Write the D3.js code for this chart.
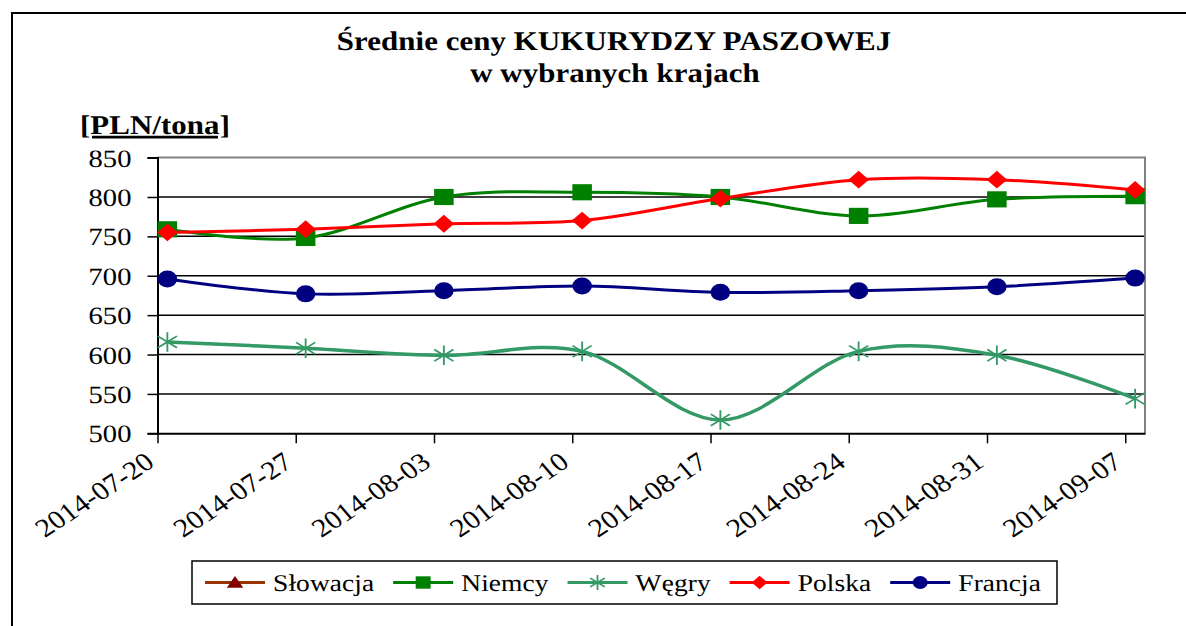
<!DOCTYPE html>
<html>
<head>
<meta charset="utf-8">
<script src="https://cdn.jsdelivr.net/npm/d3@7"></script>
<style>
  body { margin: 0; background: #fff; }
</style>
</head>
<body>
<script>
// weekly prices, PLN/tona
var dates   = ["2014-07-20", "2014-07-27", "2014-08-03", "2014-08-10", "2014-08-17", "2014-08-24", "2014-08-31", "2014-09-07"];
var slowacja = [];
var niemcy  = [759, 748, 800, 806, 800, 776, 797, 801];
var wegry   = [616, 608, 599, 604, 517, 604, 599, 544];
var polska  = [755, 759, 766, 770, 798, 822, 822, 809];
var francja = [696, 677, 681, 687, 679, 681, 686, 697];
var yTicks  = [500, 550, 600, 650, 700, 750, 800, 850];

var seriesNames = ["Słowacja", "Niemcy", "Węgry", "Polska", "Francja"];
var seriesValues = [slowacja, niemcy, wegry, polska, francja];

var FONT = "'Liberation Serif', 'Times New Roman', serif";
var SX = 1.15; // the original picture is a bit wider than tall
// upright text lost its serif face here, so draw it at double size,
// shrink it back and give it a barely visible skew
var UP = 2;
var UPRIGHT = " scale(" + (SX / UP) + "," + (1 / UP) + ") skewX(0.5)";

var W = 1186, H = 626;
var svg = d3.select("body").append("svg")
    .attr("width", W)
    .attr("height", H);

var plot = {left: 157.5, right: 1145, top: 157.6, bottom: 433.3};

var parse = d3.timeParse("%Y-%m-%d");
var x = d3.scaleTime()
    .domain([parse("2014-07-20"), parse("2014-09-08")])
    .range([plot.left, plot.right]);
var y = d3.scaleLinear()
    .domain([500, 850])
    .range([plot.bottom, plot.top]);

// observations were taken around mid-day
var pointDates = dates.map(function(d) { return d3.timeHour.offset(parse(d), 12); });

function txt(parent, px, py, size, str) {
    return parent.append("text")
        .attr("transform", "translate(" + px + "," + py + ")" + UPRIGHT)
        .style("font-family", FONT)
        .style("font-size", (size * UP) + "px")
        .text(str);
}

// outer frame
svg.append("rect")
    .attr("x", 12).attr("y", 13)
    .attr("width", W).attr("height", H)
    .attr("fill", "none").attr("stroke", "#000").attr("stroke-width", 2);

// title
txt(svg, 614, 50, 27, "Średnie ceny KUKURYDZY PASZOWEJ").attr("text-anchor", "middle").style("font-weight", "bold");
txt(svg, 615, 82, 27, "w wybranych krajach").attr("text-anchor", "middle").style("font-weight", "bold");
txt(svg, 80, 134, 27, "[PLN/tona]").style("font-weight", "bold").style("text-decoration", "underline");

// gridlines
svg.append("g").selectAll("line")
    .data(yTicks.slice(1, -1))
    .join("line")
    .attr("x1", plot.left).attr("x2", plot.right)
    .attr("y1", function(d) { return y(d); })
    .attr("y2", function(d) { return y(d); })
    .attr("stroke", "#000").attr("stroke-width", 1.5);

// plot frame (grey top/right)
svg.append("path")
    .attr("d", "M" + plot.left + "," + plot.top + "H" + plot.right + "V" + plot.bottom)
    .attr("fill", "none").attr("stroke", "#808080").attr("stroke-width", 2);

// y axis
var yAxis = svg.append("g")
    .attr("transform", "translate(" + plot.left + ",0)")
    .call(d3.axisLeft(y).tickValues(yTicks).tickSize(10).tickFormat(d3.format("d")));
yAxis.attr("font-family", null).attr("font-size", null);
yAxis.select(".domain").attr("stroke-width", 2);
yAxis.selectAll(".tick line").attr("stroke-width", 1.5);
yAxis.selectAll("text")
    .attr("x", 0).attr("dy", "0.34em")
    .attr("transform", "translate(-26,0)" + UPRIGHT)
    .style("font-family", FONT)
    .style("font-size", (25 * UP) + "px")
    .attr("fill", "#000");

// x axis
var xAxis = svg.append("g")
    .attr("transform", "translate(0," + plot.bottom + ")")
    .call(d3.axisBottom(x).tickValues(dates.map(parse)).tickSize(10).tickSizeOuter(0).tickFormat(d3.timeFormat("%Y-%m-%d")));
xAxis.attr("font-family", null).attr("font-size", null);
xAxis.select(".domain").attr("stroke-width", 2);
xAxis.selectAll(".tick line").attr("stroke-width", 1.5);
xAxis.selectAll("text")
    .style("font-family", FONT)
    .style("font-size", "26px")
    .attr("fill", "#000")
    .attr("text-anchor", "end")
    .attr("dy", 0)
    .attr("y", 0)
    .attr("transform", "translate(-2,32) scale(" + SX + ",1) rotate(-37)");

// series styles
var styles = {
    "Słowacja": {line: "#993300", fill: "#800000", marker: "triangle", width: 3},
    "Niemcy":   {line: "#008000", fill: "#008000", marker: "square", width: 3},
    "Węgry":    {line: "#339966", fill: "#339966", marker: "star", width: 3.5},
    "Polska":   {line: "#ff0000", fill: "#ff0000", marker: "diamond", width: 3},
    "Francja":  {line: "#000080", fill: "#000080", marker: "circle", width: 3}
};

// markers are drawn in a box stretched by SX like the original
function drawMarker(g, kind, color, s) {
    g = g.append("g").attr("transform", "scale(" + SX + ",1)");
    if (kind === "square") {
        g.append("rect").attr("x", -s).attr("y", -s * 0.95).attr("width", 2 * s).attr("height", 1.9 * s).attr("fill", color);
    } else if (kind === "diamond") {
        g.append("path").attr("d", "M0," + (-s * 1.05) + "L" + (s * 1.05) + ",0L0," + (s * 1.05) + "L" + (-s * 1.05) + ",0Z").attr("fill", color);
    } else if (kind === "circle") {
        g.append("circle").attr("r", s).attr("fill", color);
    } else if (kind === "triangle") {
        g.append("path").attr("d", "M0," + (-s) + "L" + (s * 1.1) + "," + (s * 0.8) + "L" + (-s * 1.1) + "," + (s * 0.8) + "Z").attr("fill", color);
    } else if (kind === "star") {
        var r = s * 1.15, d = r * 0.85;
        g.append("path")
            .attr("d", "M0," + (-r) + "V" + r + "M" + (-d) + "," + (-d * 0.7) + "L" + d + "," + (d * 0.7) + "M" + (-d) + "," + (d * 0.7) + "L" + d + "," + (-d * 0.7))
            .attr("stroke", color).attr("stroke-width", 1.6).attr("fill", "none");
    }
}

var line = d3.line()
    .x(function(d) { return x(d.date); })
    .y(function(d) { return y(d.value); })
    .curve(d3.curveCardinal.tension(0));

// draw order: Francja, Węgry, Niemcy, Polska
var drawOrder = ["Francja", "Węgry", "Niemcy", "Polska"];
drawOrder.forEach(function(name) {
    var vals = seriesValues[seriesNames.indexOf(name)];
    var st = styles[name];
    var data = vals.map(function(v, i) { return {date: pointDates[i], value: v}; });
    svg.append("path")
        .datum(data)
        .attr("fill", "none")
        .attr("stroke", st.line)
        .attr("stroke-width", st.width)
        .attr("d", line);
    svg.append("g").selectAll("g")
        .data(data)
        .join("g")
        .attr("transform", function(d) { return "translate(" + x(d.date) + "," + y(d.value) + ")"; })
        .each(function() { drawMarker(d3.select(this), st.marker, st.fill, 8.5); });
});

// legend
var legend = svg.append("g");
legend.append("rect")
    .attr("x", 192).attr("y", 561)
    .attr("width", 865).attr("height", 43)
    .attr("fill", "#fff").attr("stroke", "#000").attr("stroke-width", 1.5);

var lx = 205, ly = 582.5;
seriesNames.forEach(function(name) {
    var st = styles[name];
    legend.append("line")
        .attr("x1", lx).attr("x2", lx + 60)
        .attr("y1", ly).attr("y2", ly)
        .attr("stroke", st.line).attr("stroke-width", 3);
    var m = legend.append("g").attr("transform", "translate(" + (lx + 30) + "," + ly + ")");
    drawMarker(m, st.marker, st.fill, 6.5);
    var t = txt(legend, lx + 68, ly, 24, name).attr("dy", "0.35em");
    lx = lx + 68 + t.node().getComputedTextLength() * SX / UP + 19;
});
</script>
</body>
</html>
